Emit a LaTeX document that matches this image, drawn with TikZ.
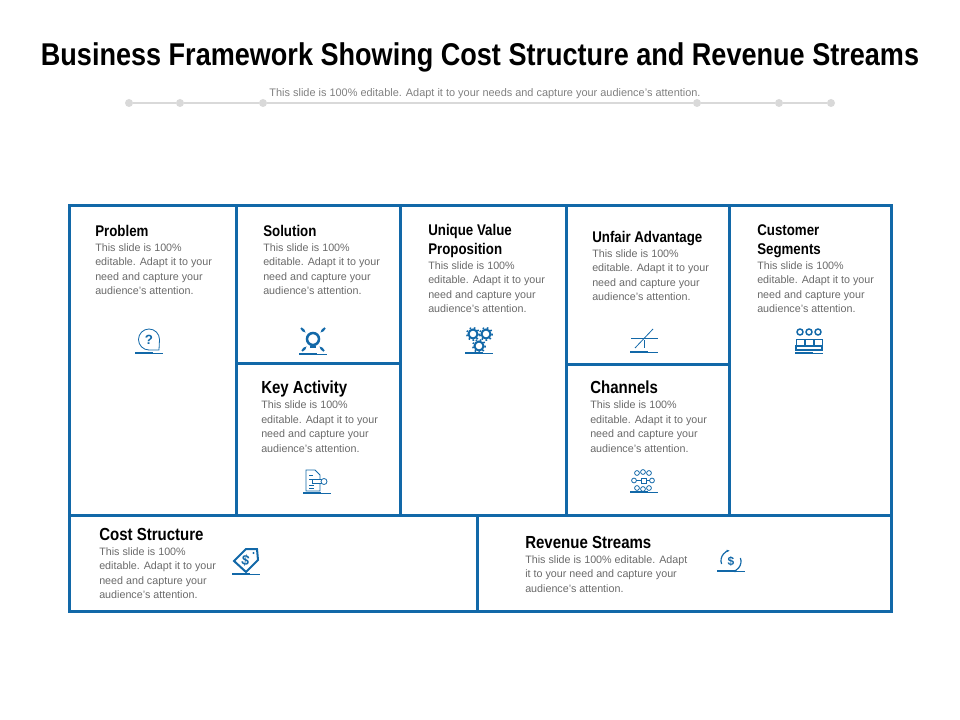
\documentclass[tikz,border=0pt]{standalone}
\usepackage{fontspec}
\setmainfont{Liberation Sans}
\newfontfamily\fuente[FakeStretch=0.86]{Liberation Sans}
\usepackage{tikz}
\usetikzlibrary{positioning,arrows.meta}

\definecolor{azulmarco}{HTML}{1268A8}
\definecolor{grisguia}{HTML}{D9D9D9}
\definecolor{gristexto}{HTML}{6A6A6A}

\tikzset{
  marco/.style={draw=azulmarco,line width=2.25pt},
  cabeza/.style={font=\fuente\bfseries\fontsize{11.6}{14.3}\selectfont,anchor=north west,inner sep=0pt,align=left,text=black,text depth=0pt},
  cabezag/.style={cabeza,font=\fuente\bfseries\fontsize{13.1}{15}\selectfont},
  cuerpo/.style={font=\fontsize{8.05}{10.85}\selectfont,anchor=north west,inner sep=0pt,align=left,text=gristexto,at={(#1.south west)},yshift=-5pt},
  punto/.style={circle,fill=grisguia,inner sep=0pt,minimum size=6pt},
  icono/.style={draw=azulmarco,line width=0.6pt},
  iconog/.style={draw=azulmarco,line width=1.5pt}
}

\newcommand{\baseicono}[2]{% linea bajo cada icono
  \draw[azulmarco,line width=1.1pt] (#1-14,#2) -- (#1+4,#2);
  \draw[azulmarco,line width=0.7pt] (#1+4,#2) -- (#1+14,#2);
}

\begin{document}
\begin{tikzpicture}[x=0.75pt,y=-0.75pt]
    \useasboundingbox (0,0) rectangle (960,720);
    % Parametros
    \def\textocelda{This slide is 100\%\\editable. Adapt it to your\\need and capture your\\audience's attention.}

    % Encabezado
    \node[font=\fuente\bfseries\fontsize{23.6}{26}\selectfont,inner sep=0pt] (titulo) at (480,57) {Business Framework Showing Cost Structure and Revenue Streams};
    \node[font=\fontsize{8.2}{10}\selectfont,text=gristexto!85,inner sep=0pt] (subtitulo) at (485,94) {This slide is 100\% editable.  Adapt it to your needs and capture your audience's attention.};
    \foreach \nombre/\posx in {g1/129,g2/180,g3/263,g4/697,g5/779,g6/831}
      \node[punto] (\nombre) at (\posx,103) {};
    \draw[grisguia,line width=1.5pt] (g1) -- (g2) -- (g3) -- (g4) -- (g5) -- (g6);

    % Marco
    \draw[marco] (69,206) rectangle (891,611);
    \draw[marco] (69,515) -- (891,515);
    \draw[marco] (477,515) -- (477,611);
    \draw[marco] (236,206) -- (236,515);
    \draw[marco] (400,206) -- (400,515);
    \draw[marco] (566,206) -- (566,515);
    \draw[marco] (729,206) -- (729,515);
    \draw[marco] (236,363) -- (400,363);
    \draw[marco] (566,364.5) -- (729,364.5);

    % Textos
    \node[cabeza] (problema) at (95,225) {Problem};
    \node[cuerpo=problema] (problemat) {\textocelda};
    \node[cabeza] (solucion) at (263,225) {Solution};
    \node[cuerpo=solucion] (soluciont) {\textocelda};
    \node[cabeza] (propuesta) at (428,224) {Unique Value\\Proposition};
    \node[cuerpo=propuesta] (propuestat) {\textocelda};
    \node[cabeza] (ventaja) at (592,231) {Unfair Advantage};
    \node[cuerpo=ventaja] (ventajat) {\textocelda};
    \node[cabeza] (clientes) at (757,224) {Customer\\Segments};
    \node[cuerpo=clientes] (clientest) {\textocelda};
    \node[cabezag] (actividad) at (261,381) {Key Activity};
    \node[cuerpo=actividad] (actividadt) {\textocelda};
    \node[cabezag] (canales) at (590,381) {Channels};
    \node[cuerpo=canales] (canalest) {\textocelda};
    \node[cabezag] (costos) at (99,528) {Cost Structure};
    \node[cuerpo=costos] (costost) {\textocelda};
    \node[cabezag] (ingresos) at (525,536) {Revenue Streams};
    \node[cuerpo=ingresos] (ingresost) {This slide is 100\% editable. Adapt\\it to your need and capture your\\audience's attention.};

    % Icono pregunta
    \baseicono{149}{353}
    \draw[icono] (159,350) -- (149,350) arc (90:360:10.5) -- cycle;
    \node[text=azulmarco,font=\bfseries\fontsize{10}{10}\selectfont,inner sep=0pt] (qm) at (149,339.5) {?};

    % Icono bombilla
    \baseicono{313}{354}
    \draw[iconog,line width=1.9pt] (313,339) circle (6);
    \draw[iconog,line width=1.9pt] (310,347) -- (316,347);
    \foreach \ax/\ay/\bx/\by in {301/328/306/333,325/328/320/333,302/351/307/346,324/351/319/346}
      \draw[iconog,-{Latex[length=3.5pt]}] (\ax,\ay) -- (\bx,\by);

    % Icono engranes
    \baseicono{479}{353}
    \foreach \cx/\cy in {473/334,486/334,479/346}{
      \draw[iconog] (\cx,\cy) circle (4.5);
      \draw[azulmarco,line width=1.2pt,dotted] (\cx,\cy) circle (6.2);
    }

    % Icono ventaja
    \baseicono{644}{352}
    \draw[icono] (631,338) -- (658,338);
    \draw[icono] (635,348) -- (653,329);
    \draw[icono] (644,340) -- (644,348);

    % Icono clientes
    \baseicono{809}{353}
    \foreach \cx in {800,809,818}{
      \draw[iconog,line width=1.1pt] (\cx,332) circle (3);
      \draw[icono] (\cx-4,339) rectangle (\cx+4,346);
    }
    \draw[icono,line width=0.9pt] (796,346) rectangle (822,350);

    % Icono documento
    \baseicono{317}{493}
    \draw[icono] (306,470) -- (315,470) -- (320,475) -- (320,491) -- (306,491) -- cycle;
    \draw[icono] (309,475) -- (313,475) (309,479) -- (316,479) (309,485) -- (314,485) (309,488) -- (314,488);
    \draw[icono,fill=white] (312,479.5) rectangle (323,483.5);
    \draw[icono,fill=white] (324,481.5) circle (3);

    % Icono red
    \baseicono{644}{492}
    \draw[icono] (641,478) rectangle (646,483);
    \foreach \cx/\cy in {637/473,643/472,649/473,634/480.5,652/480.5,637/488,643/489,649/488}
      \draw[icono] (\cx,\cy) circle (2.4);
    \draw[icono] (636.4,480.5) -- (641,480.5) (646,480.5) -- (649.6,480.5);

    % Icono etiqueta
    \baseicono{246}{574}
    \draw[iconog] (234,561) -- (246,549) -- (257,549) -- (258,560) -- (246,572) -- cycle;
    \fill[azulmarco] (253.5,553) circle (1.2);
    \node[text=azulmarco,font=\bfseries\fontsize{10.5}{10}\selectfont,inner sep=0pt,rotate=-10] (dolar) at (245.5,561) {\$};

    % Icono ingresos
    \baseicono{731}{571}
    \draw[icono,line width=0.9pt,-{Latex[length=2.5pt]}] (721.6,564) arc (160:265:10);
    \draw[icono,line width=0.9pt,-{Latex[length=2.5pt]}] (740.4,558) arc (-20:85:10);
    \node[text=azulmarco,font=\bfseries\fontsize{9}{9}\selectfont,inner sep=0pt] (ese) at (731,561) {\$};
\end{tikzpicture}
\end{document}
